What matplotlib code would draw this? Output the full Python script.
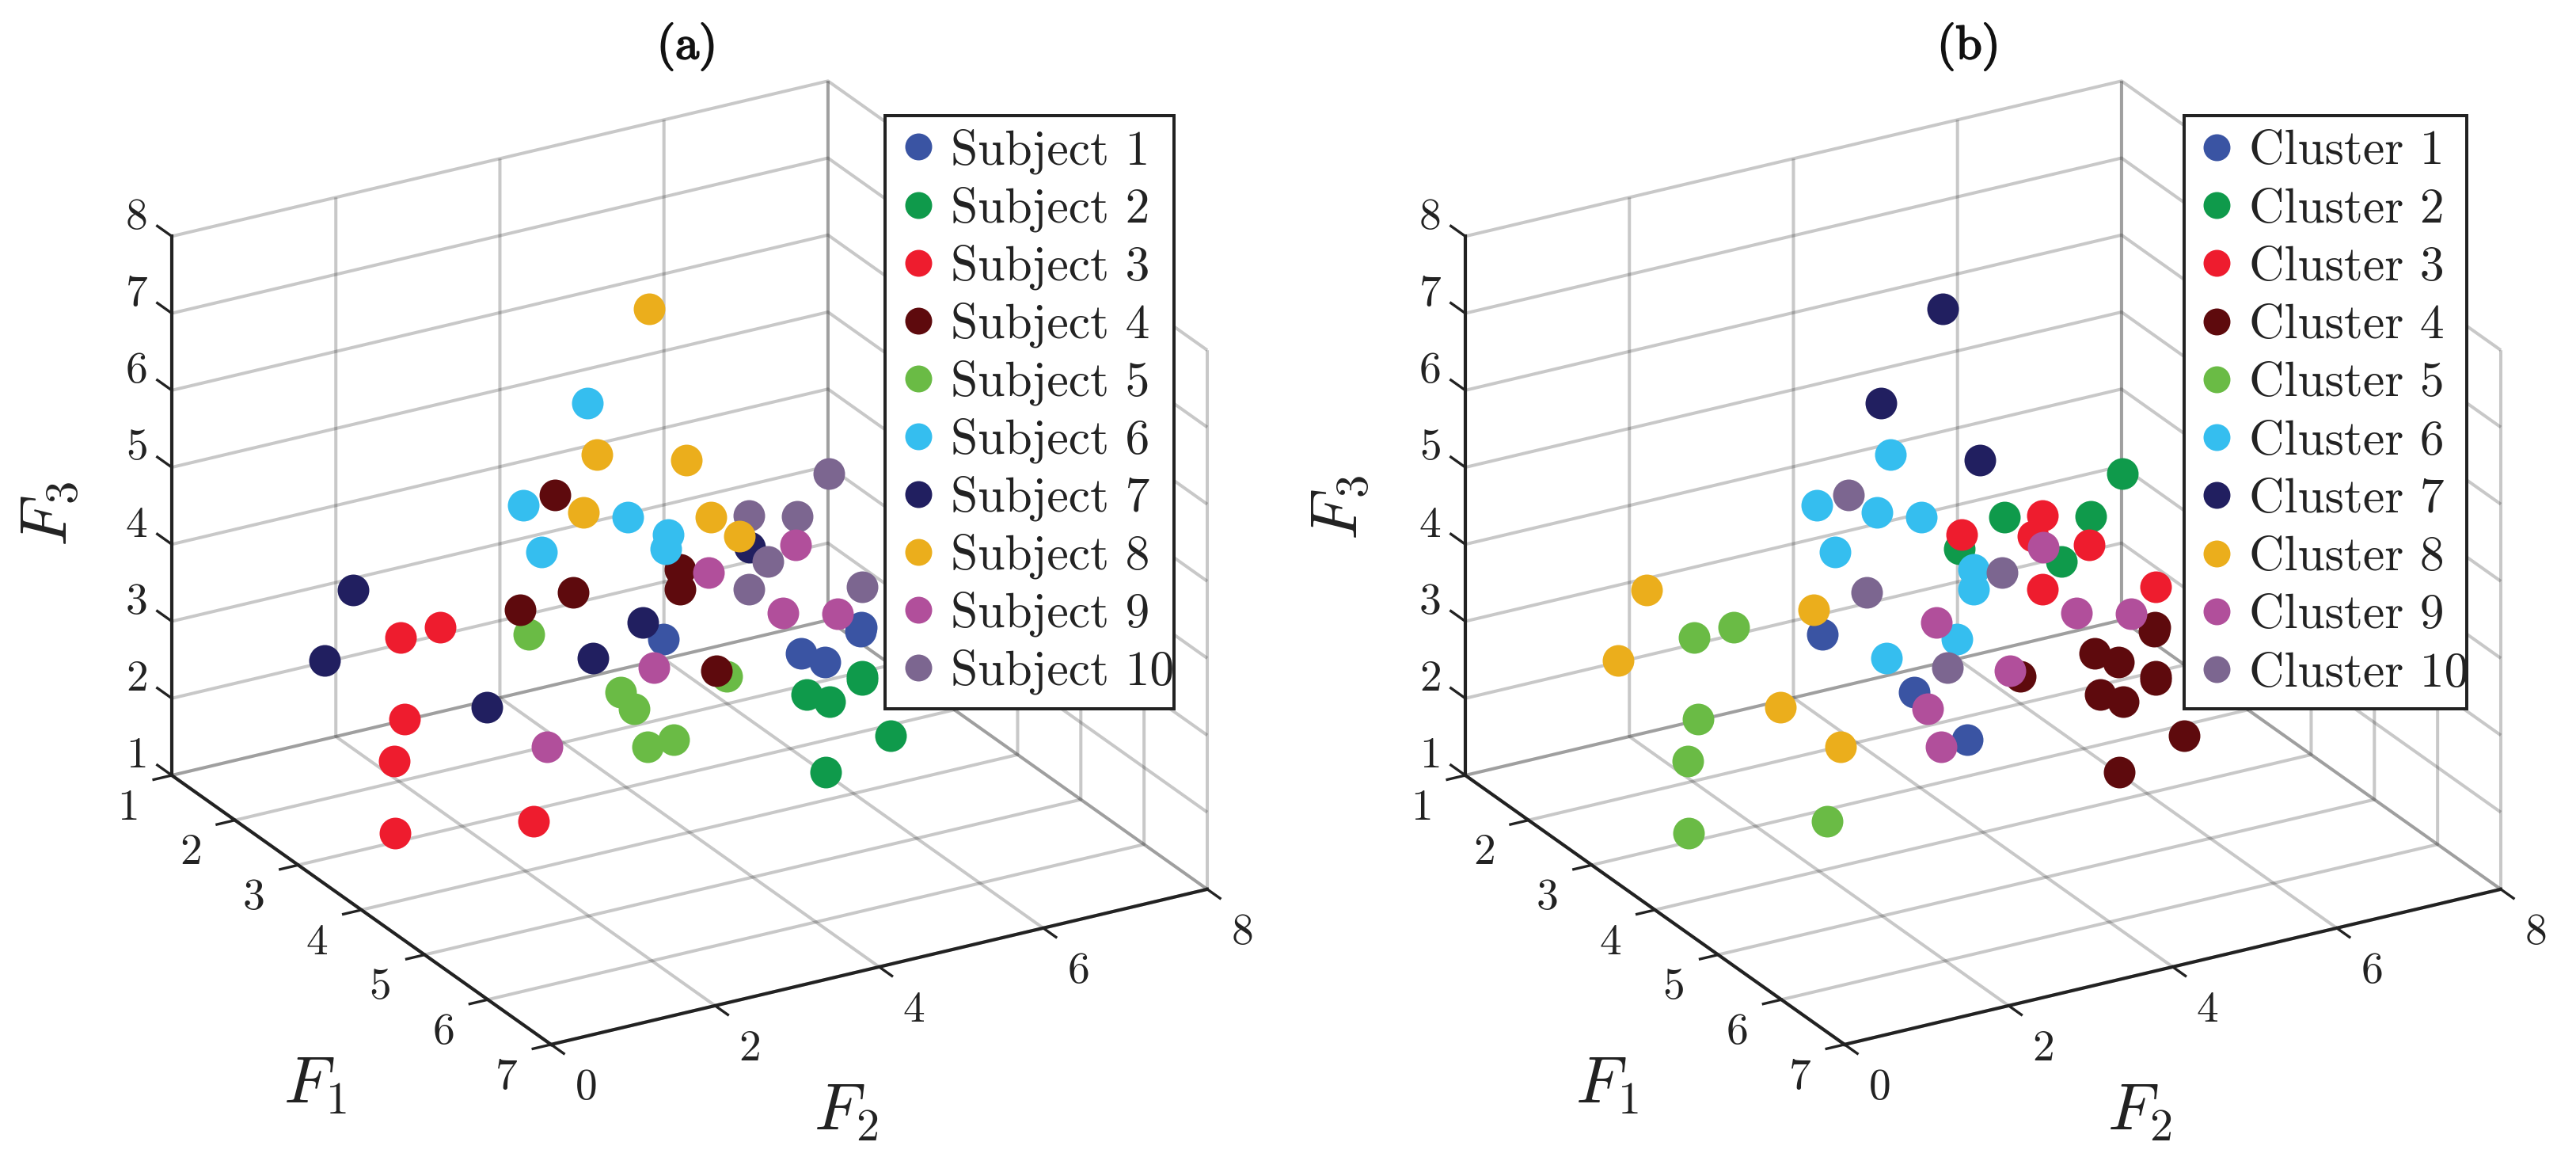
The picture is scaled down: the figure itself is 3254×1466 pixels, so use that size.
import matplotlib
matplotlib.use("Agg")
import matplotlib.pyplot as plt
import matplotlib.patheffects as pe
from matplotlib.path import Path
from matplotlib.transforms import Affine2D
from mpl_toolkits.mplot3d import proj3d

# ---- data ----
F1 = [3,4,4,4,4,  5,5,5,5,6,6,  2,2,3,3,4,4,  2,2,2,3,3,4,  3,4,4,5,5,4,
      2,2,3,2,3,3,  1,1,3,3,3,3,  2,2,3,3,3,3,  3,3,4,4,4,4,  3,3,3,3,3,4]
F2 = [4.45,5.36,5.65,6.09,6.08,
      5.33,5.33,4.66,4.94,4.91,4.12,
      2.02,2.50,1.30,1.17,0.41,2.10,
      3.90,4.12,3.48,4.65,4.65,4.33,
      2.81,3.16,3.32,2.72,3.04,4.45,
      4.30,3.51,4.02,3.74,4.51,4.48,
      2.21,1.86,2.30,3.59,4.20,5.50,
      5.05,4.41,4.73,3.48,5.03,5.38,
      6.06,5.00,5.14,5.80,3.57,2.26,
      6.47,5.49,6.08,5.73,5.49,6.10]
F3 = [2.81,2.98,2.79,3.14,3.09,
      3.27,3.23,3.21,3.04,3.19,2.92,
      2.86,2.88,2.57,2.06,1.89,1.62,
      4.24,2.92,2.86,3.67,3.41,3.01,
      3.29,3.03,2.78,3.01,3.03,2.91,
      5.33,4.20,4.50,3.54,4.15,3.98,
      2.85,2.02,2.47,2.78,3.09,3.74,
      6.37,4.64,5.07,4.70,4.25,3.92,
      3.63,3.54,3.56,3.38,3.25,2.55,
      4.45,4.15,4.00,3.50,3.20,3.66]
SUBJECT = [1]*5 + [2]*6 + [3]*6 + [4]*6 + [5]*6 + [6]*6 + [7]*6 + [8]*6 + [9]*6 + [10]*6
CLUSTER = [6,4,4,4,4,
           4,4,4,4,4,4,
           5,5,5,5,5,5,
           10,10,8,6,6,9,
           1,1,9,9,1,4,
           7,6,6,6,3,2,
           8,8,8,6,9,9,
           7,6,7,6,2,3,
           3,10,9,9,10,8,
           2,3,2,2,3,3]
COLORS = ["#3A54A3","#0F9A4B","#EE1C2E","#5E0A0D","#6ABB45",
          "#35BEEF","#211F60","#EBAE1C","#B14F9B","#7C6690"]
F1_TICKS = [1,2,3,4,5,6,7]
F2_TICKS = [0,2,4,6,8]
F3_TICKS = [1,2,3,4,5,6,7,8]
ORDER_A = [1,2,3,5,4,6,7,10,8,9]
ORDER_B = [1,2,3,4,5,6,7,8,9,10]

INK = "#222222"
W, H = 3255, 1466
plt.rcParams.update({
    "font.family": "cmr10", "mathtext.fontset": "cm",
    "axes.formatter.use_mathtext": True,
    "xtick.major.width": 1.2, "ytick.major.width": 1.2,
    "text.color": INK, "axes.labelcolor": INK,
})
fig = plt.figure(figsize=(W/200, H/200), dpi=200, facecolor="white")
fx = lambda x: x/W
fy = lambda y: 1-y/H

def corner_px(ax, f1, f2, f3):
    x, y, _ = proj3d.proj_transform(f1, f2, f3, ax.get_proj())
    p = ax.transData.transform((x, y))
    return p[0], H-p[1]

def frame_style(left, right, top, bottom):
    def style(x0, y0, width, height, mutation_size):
        return Path([(left,H-bottom),(right,H-bottom),(right,H-top),(left,H-top),(left,H-bottom)], closed=True)
    return style

def offset_labels(ax, axis, dx, dy):
    original = axis.get_major_ticks
    shift = ax.transData + Affine2D().translate(dx, dy)
    def get_major_ticks(numticks=None):
        ticks = original(numticks)
        for t in ticks:
            t.label1.set_transform(shift)
            t.label1.set_ha("center"); t.label1.set_va("center")
        return ticks
    axis.get_major_ticks = get_major_ticks

def panel(ox, groups, order, prefix, title, title_x, frame, anchor, spacing, lab):
    ax = fig.add_axes([fx(ox-50), 0.02, 1400/W, 1400/H], projection="3d",
                      proj_type="ortho", computed_zorder=False)
    ax.patch.set_visible(False)
    ax.set_xlim(1,7); ax.set_ylim(0,8); ax.set_zlim(1,8)
    ax.view_init(elev=24.18, azim=-30)
    zoom = 1.0
    for _ in range(3):
        ax.set_box_aspect((958,957,746), zoom=zoom)
        ax.apply_aspect()
        x0,_y0 = corner_px(ax,1,0,1); x1,_y1 = corner_px(ax,7,8,1)
        zoom *= 1308/(x1-x0)
    ax.set_box_aspect((958,957,746), zoom=zoom)
    ax.apply_aspect()
    x0,y0 = corner_px(ax,1,0,1)
    pos = ax.get_position()
    ax.set_position([pos.x0+(ox-x0)/W, pos.y0-(979-y0)/H, pos.width, pos.height])

    ax.set_xticks(F1_TICKS); ax.set_yticks(F2_TICKS); ax.set_zticks(F3_TICKS)
    # label shift in px, tick length factors (inward, outward)
    offs = {"x":(-66,-52,0.345,0),"y":(49,-67,0.42,0),"z":(-60,25,0,0.476)}
    for name,axis in (("x",ax.xaxis),("y",ax.yaxis),("z",ax.zaxis)):
        axis.set_pane_color((1,1,1,0))
        axis.pane.set_edgecolor("none")
        axis.line.set_color(INK); axis.line.set_linewidth(1.5)
        axis._axinfo["grid"].update(color=(0.15,0.15,0.15,0.25), linewidth=1.45)
        ax.tick_params(axis=name, labelsize=20, length=3, pad=-11, colors=INK)
        dx,dy,fin,fout = offs[name]
        axis._axinfo["tick"]["inward_factor"] = fin
        axis._axinfo["tick"]["outward_factor"] = fout
        offset_labels(ax, axis, dx, dy)
    ax.zaxis.set_ticks_position("lower")
    ax.zaxis._get_tickdir = lambda pos: 0

    handles = {}
    for rank,g in enumerate(order):
        idx = [i for i in range(len(F1)) if groups[i]==g]
        handles[g] = ax.scatter([F1[i] for i in idx],[F2[i] for i in idx],[F3[i] for i in idx],
                                s=207, c=COLORS[g-1], linewidths=0, depthshade=False,
                                zorder=5+rank, clip_on=False, label=f"{prefix} {g}")
    leg = ax.legend([handles[g] for g in range(1,11)], [f"{prefix} {g}" for g in range(1,11)],
                    loc="upper left", bbox_to_anchor=(fx(anchor[0]), fy(anchor[1])),
                    bbox_transform=fig.transFigure, borderaxespad=0, fancybox=False,
                    framealpha=1, edgecolor=INK, prop={"family":"cmr10","size":22.2},
                    markerscale=0.85, labelspacing=spacing, handlelength=1.33, handletextpad=0.0,
                    borderpad=0.0, scatterpoints=1, scatteryoffsets=[0.5])
    leg.get_frame().set_boxstyle(frame_style(*frame))
    leg.get_frame().set_linewidth(1.44)
    leg.set_zorder(50)
    ax.text2D(fx(title_x), fy(59), title, transform=fig.transFigure, fontfamily="cmr10",
              fontsize=21.6, ha="center", va="center", color="#111111",
              path_effects=[pe.withStroke(linewidth=0.7, foreground="#111111")])
    for text,(tx,ty),rot in zip((r"$F_1$",r"$F_2$",r"$F_3$"), lab, (0,0,90)):
        ax.text2D(fx(tx), fy(ty), text, transform=fig.transFigure, fontsize=30,
                  ha="center", va="center", rotation=rot)
    return ax

panel(217, SUBJECT, ORDER_A, "Subject", "(a)", 868, (1118,1483,146,895), (1119,162), 0.253,
      ((398,1371),(1069,1405),(63,649)))
panel(217+1634, CLUSTER, ORDER_B, "Cluster", "(b)", 2487, (2759,3116,146,895), (2759,164), 0.29,
      ((2030,1371),(2703,1405),(1693,641)))
fig.savefig("out.png", dpi=200)
